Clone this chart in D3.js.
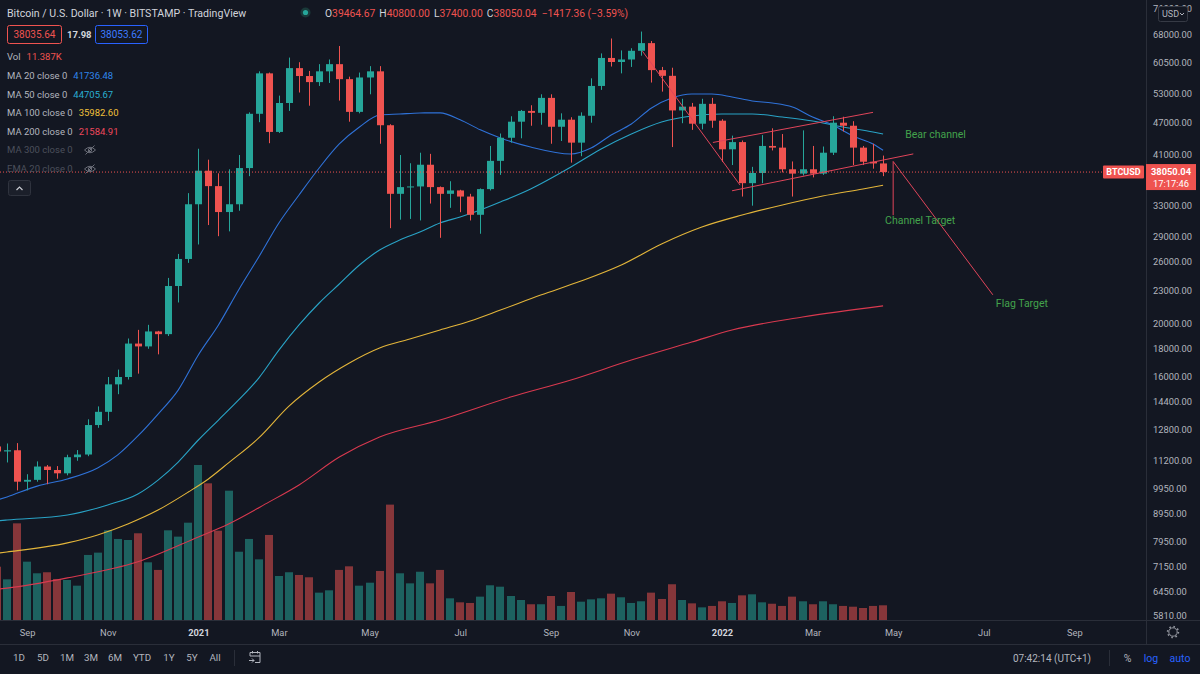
<!DOCTYPE html>
<html>
<head>
<meta charset="utf-8">
<script src="https://cdnjs.cloudflare.com/ajax/libs/d3/7.8.5/d3.min.js"></script>
<style>
  html, body { margin: 0; padding: 0; background: #131722; }
  svg { display: block; font-family: Roboto, "Noto Sans", sans-serif; }
</style>
</head>
<body>
<div id="chart"></div>
<script>
// weekly bars, BITSTAMP BTCUSD (Monday open)
const weeks = [
  "2020-08-17", "2020-08-24", "2020-08-31", "2020-09-07", "2020-09-14", "2020-09-21", "2020-09-28",
  "2020-10-05", "2020-10-12", "2020-10-19", "2020-10-26", "2020-11-02", "2020-11-09", "2020-11-16",
  "2020-11-23", "2020-11-30", "2020-12-07", "2020-12-14", "2020-12-21", "2020-12-28",
  "2021-01-04", "2021-01-11", "2021-01-18", "2021-01-25", "2021-02-01", "2021-02-08", "2021-02-15",
  "2021-02-22", "2021-03-01", "2021-03-08", "2021-03-15", "2021-03-22", "2021-03-29", "2021-04-05",
  "2021-04-12", "2021-04-19", "2021-04-26", "2021-05-03", "2021-05-10", "2021-05-17", "2021-05-24",
  "2021-05-31", "2021-06-07", "2021-06-14", "2021-06-21", "2021-06-28", "2021-07-05", "2021-07-12",
  "2021-07-19", "2021-07-26", "2021-08-02", "2021-08-09", "2021-08-16", "2021-08-23", "2021-08-30",
  "2021-09-06", "2021-09-13", "2021-09-20", "2021-09-27", "2021-10-04", "2021-10-11", "2021-10-18",
  "2021-10-25", "2021-11-01", "2021-11-08", "2021-11-15", "2021-11-22", "2021-11-29", "2021-12-06",
  "2021-12-13", "2021-12-20", "2021-12-27",
  "2022-01-03", "2022-01-10", "2022-01-17", "2022-01-24", "2022-01-31", "2022-02-07", "2022-02-14",
  "2022-02-21", "2022-02-28", "2022-03-07", "2022-03-14", "2022-03-21", "2022-03-28", "2022-04-04",
  "2022-04-11", "2022-04-18", "2022-04-25"
];

// [open, high, low, close]
const ohlc = [
  [11900, 12470, 11560, 11650], [11650, 12050, 11120, 11710], [11710, 12070, 9880, 10250],
  [10250, 10580, 9880, 10330], [10330, 11170, 10250, 10930], [10930, 11000, 10140, 10770],
  [10770, 10950, 10380, 10620], [10620, 11490, 10530, 11370], [11370, 11720, 11200, 11500],
  [11500, 13350, 11420, 13030], [13030, 14100, 12880, 13780], [13780, 15970, 13250, 15480],
  [15480, 16480, 14850, 15970], [15970, 18800, 15800, 18400], [18400, 19500, 16200, 18180],
  [18180, 19920, 18000, 19370], [19370, 19420, 17580, 19150], [19150, 24300, 19000, 23480],
  [23480, 26900, 21900, 26330], [26330, 34800, 25900, 33200],
  [33200, 42000, 28000, 38270], [38270, 40100, 30400, 35850], [35850, 37850, 29000, 32120],
  [32120, 38500, 29600, 33200], [33200, 40900, 32300, 38700], [38700, 49000, 37400, 48700],
  [48700, 58300, 47000, 57800], [57800, 58000, 43000, 45100], [45100, 52600, 44900, 50980],
  [50980, 61800, 49300, 59100], [59100, 60600, 53300, 57150], [57150, 58400, 50400, 55700],
  [55700, 60100, 54800, 58300], [58300, 61300, 55500, 60100], [60100, 64900, 51500, 56400],
  [56400, 57000, 47100, 49100], [49100, 58000, 48800, 56800], [56800, 59600, 52900, 58300],
  [58300, 59600, 42900, 46400], [46400, 46600, 30000, 34700], [34700, 40900, 31100, 35700],
  [35700, 39500, 31200, 35800], [35800, 41300, 31000, 39250], [39250, 41100, 33300, 35700],
  [35700, 35800, 28800, 34700], [34700, 36600, 32700, 35200], [35200, 35300, 32100, 34300],
  [34300, 34700, 31000, 31750], [31750, 35500, 29300, 35400], [35400, 42500, 35200, 39900],
  [39900, 44800, 37600, 44000], [44000, 48200, 43100, 47100], [47100, 49500, 43900, 49300],
  [49300, 50500, 46300, 48900], [48900, 52900, 46500, 52100], [52100, 52900, 42900, 46100],
  [46100, 48800, 43400, 47500], [47500, 48000, 39600, 43100], [43100, 49000, 40700, 48300],
  [48300, 56600, 46900, 54800], [54800, 62900, 53900, 61700], [61700, 67000, 59500, 60650],
  [60650, 63700, 57800, 61300], [61300, 64300, 59400, 63600], [63600, 69000, 62300, 65700],
  [65700, 66300, 55600, 58600], [58600, 59400, 53500, 57200], [57200, 59200, 42300, 49400],
  [49400, 51900, 46800, 50200], [50200, 51000, 45500, 46700], [46700, 51900, 45600, 50800],
  [50800, 52100, 45900, 47300],
  [47300, 47600, 39700, 41900], [41900, 44400, 39200, 43200], [43200, 43500, 34300, 36300],
  [36300, 38900, 33000, 37900], [37900, 44500, 36300, 42500], [42500, 45800, 41700, 42200],
  [42200, 44700, 38000, 38500], [38500, 39800, 34300, 37800], [37800, 45400, 37500, 38500],
  [38500, 42500, 37200, 37800], [37800, 42400, 37600, 41300], [41300, 48200, 40900, 46900],
  [46900, 48100, 45200, 46300], [46300, 47200, 39200, 42200], [42200, 42500, 39200, 39750],
  [39750, 42900, 38600, 39464.67], [39464.67, 40800, 37400, 38050.04]
];

// volume, thousands of BTC
const volumes = [
  41.3, 31.5, 74.9, 45.2, 36.2, 37.0, 31.8, 31.0, 26.6, 50.4, 52.2, 69.5, 62.8, 62.0, 67.2, 44.7,
  38.8, 69.5, 64.6, 75.4,
  120.1, 105.9, 69.2, 100.2, 52.9, 62.8, 47.0, 65.9, 34.1, 37.0, 34.9, 33.1, 21.2, 23.0, 38.8, 41.6,
  26.6, 28.9, 38.0, 89.4, 36.2, 28.4, 37.4, 28.4, 38.8, 16.8, 13.7, 13.2, 18.1, 26.9, 25.8, 18.6,
  15.5, 12.2, 12.2, 18.6, 10.9, 21.7, 14.2, 16.0, 16.8, 20.4, 17.6, 13.2, 14.5, 21.2, 16.3, 27.7,
  15.5, 12.9, 9.8, 10.9,
  14.5, 13.2, 19.1, 19.9, 13.7, 12.6, 10.9, 18.1, 14.5, 12.2, 14.5, 12.2, 10.9, 10.3, 9.3, 10.9, 11.387
];

// moving averages: [bar offset from 2020-08-24, value]
const ma20 = [[-1, 9480], [0, 9610], [3, 10060], [6, 10370], [9, 10860], [11, 11480], [13, 12440],
  [15, 13650], [17, 15110], [19, 17530], [21, 19910], [23, 23090], [25, 26550], [27, 30670],
  [29, 34530], [31, 38710], [33, 42860], [35, 46050], [37, 48450], [39, 48660], [41, 48870],
  [43, 48900], [45, 47500], [47, 45500], [49, 43960], [52, 42310], [56, 41080], [58, 42130],
  [60, 44520], [62, 46640], [64, 49920], [66, 52070], [68, 52970], [70, 52970], [72, 52300],
  [74, 51420], [76, 50980], [78, 50130], [80, 48040], [82, 46450], [84, 44330], [86, 42860],
  [87, 41736.48]];
const ma50 = [[-1, 8680], [0, 8715], [6, 8900], [10, 9290], [13, 9730], [15, 10320], [17, 11140],
  [19, 12230], [21, 13310], [23, 14490], [25, 15900], [27, 17900], [29, 19910], [31, 21850],
  [33, 23680], [35, 25670], [37, 27350], [39, 28530], [41, 29520], [43, 30670], [45, 31460],
  [47, 32400], [49, 33520], [52, 35420], [56, 38870], [59, 41960], [62, 44710], [65, 47040],
  [68, 48250], [71, 48660], [74, 48660], [77, 48040], [80, 47240], [83, 46050], [86, 45090],
  [87, 44705.67]];
const ma100 = [[-1, 7570], [0, 7610], [6, 7910], [9, 8180], [12, 8570], [15, 9090], [18, 9810],
  [20, 10370], [22, 11100], [25, 12340], [28, 14120], [31, 15640], [34, 16950], [37, 18060],
  [40, 18760], [43, 19490], [46, 20250], [49, 21210], [53, 22600], [57, 23980], [61, 25670],
  [65, 28060], [69, 30150], [73, 31720], [77, 33100], [81, 34380], [85, 35420], [87, 35982.60]];
const ma200 = [[-1, 6500], [0, 6530], [6, 6820], [13, 7300], [19, 8110], [22, 8570], [26, 9400],
  [29, 10110], [33, 11380], [37, 12390], [43, 13310], [50, 14670], [56, 15770], [62, 17160],
  [68, 18520], [72, 19490], [79, 20590], [87, 21584.91]];

// drawings: [bar offset, price]
const flagPole = [[63.1, 63500], [72.8, 36000]];
const channelTop = [[70.1, 43130], [86.0, 49000]];
const channelBottom = [[72.0, 35150], [90.0, 41090]];
const channelTarget = [[88.0, 39800], [88.0, 31700]];
const flagTarget = [[88.0, 39800], [97.9, 22620]];
const notes = [["Bear channel", 89.2, 44700], ["Channel Target", 87.2, 31050], ["Flag Target", 98.2, 21850]];

const priceTicks = [76000, 68000, 60500, 53000, 47000, 41000, 33000, 29000, 26000, 23000, 20000,
  18000, 16000, 14400, 12800, 11200, 9950, 8950, 7950, 7150, 6450, 5810];
const timeTicks = [["2020-09-07", "Sep"], ["2020-11-02", "Nov"], ["2021-01-04", "2021"],
  ["2021-03-01", "Mar"], ["2021-05-03", "May"], ["2021-07-05", "Jul"], ["2021-09-06", "Sep"],
  ["2021-11-01", "Nov"], ["2022-01-03", "2022"], ["2022-03-07", "Mar"], ["2022-05-02", "May"],
  ["2022-07-04", "Jul"], ["2022-09-05", "Sep"]];

const width = 1200;
const height = 674;
const plotRight = 1146;
const plotBottom = 620;
const barPx = 10.07;
const WEEK = 7 * 864e5;
const t0 = Date.UTC(2020, 7, 24);

const upColor = "#26a69a";
const downColor = "#ef5350";
const textColor = "#b2b5be";

const xScale = d3
  .scaleUtc()
  .domain([new Date(t0 - (7 / barPx) * WEEK), new Date(t0 + ((plotRight - 7) / barPx) * WEEK)])
  .range([0, plotRight]);
const barX = (i) => xScale(new Date(t0 + i * WEEK));

const yScale = d3.scaleLog().domain([5810, 68000]).range([615.7, 35]);
const yVol = d3.scaleLinear().domain([0, d3.max(volumes)]).range([plotBottom, 465]);

const bars = weeks.map((w, k) => ({
  date: new Date(w),
  o: ohlc[k][0], h: ohlc[k][1], l: ohlc[k][2], c: ohlc[k][3],
  v: volumes[k],
}));

const svg = d3
  .select("#chart")
  .append("svg")
  .attr("width", width)
  .attr("height", height);

svg.append("rect").attr("width", width).attr("height", height).attr("fill", "#131722");

svg.append("clipPath").attr("id", "plot-clip")
  .append("rect").attr("width", plotRight).attr("height", plotBottom);

const plot = svg.append("g").attr("clip-path", "url(#plot-clip)");

// volume
plot.append("g")
  .selectAll("rect")
  .data(bars)
  .join("rect")
  .attr("x", (d) => Math.round(xScale(d.date)) - 4)
  .attr("width", 8)
  .attr("y", (d) => yVol(d.v))
  .attr("height", (d) => plotBottom - yVol(d.v))
  .attr("fill", (d) => (d.c >= d.o ? upColor : downColor))
  .attr("fill-opacity", 0.52);

// moving averages
const maLine = d3.line()
  .x((d) => barX(d[0]))
  .y((d) => yScale(d[1]))
  .curve(d3.curveMonotoneX);

[[ma200, "#d9394f"], [ma100, "#e3b53a"], [ma50, "#29a3c6"], [ma20, "#2f72d8"]].forEach(([data, color]) => {
  plot.append("path")
    .attr("d", maLine(data))
    .attr("fill", "none")
    .attr("stroke", color)
    .attr("stroke-width", 1.1);
});

// candles
const candles = plot.append("g")
  .selectAll("g")
  .data(bars)
  .join("g")
  .attr("fill", (d) => (d.c >= d.o ? upColor : downColor));

candles.append("rect")
  .attr("x", (d) => Math.round(xScale(d.date)))
  .attr("width", 1)
  .attr("y", (d) => yScale(d.h))
  .attr("height", (d) => yScale(d.l) - yScale(d.h));

candles.append("rect")
  .attr("x", (d) => Math.round(xScale(d.date)) - 3)
  .attr("width", 7)
  .attr("y", (d) => yScale(Math.max(d.o, d.c)))
  .attr("height", (d) => Math.max(1, Math.abs(yScale(d.o) - yScale(d.c))));

// drawings
const drawLine = d3.line().x((d) => barX(d[0])).y((d) => yScale(d[1]));
[flagPole, channelTop, channelBottom, channelTarget, flagTarget].forEach((seg) => {
  plot.append("path")
    .attr("d", drawLine(seg))
    .attr("stroke", "#e0455a")
    .attr("stroke-width", 1)
    .attr("fill", "none");
});

plot.append("g")
  .selectAll("text")
  .data(notes)
  .join("text")
  .attr("x", (d) => barX(d[1]))
  .attr("y", (d) => yScale(d[2]))
  .attr("dy", "0.35em")
  .attr("fill", "#43a34c")
  .style("font-size", "10.5px")
  .text((d) => d[0]);

// last price line
const lastClose = bars[bars.length - 1].c;
const yLast = yScale(lastClose);
svg.append("line")
  .attr("x1", 0).attr("x2", 1103)
  .attr("y1", yLast).attr("y2", yLast)
  .attr("stroke", downColor)
  .attr("stroke-dasharray", "1 2");

// frame
svg.append("g")
  .attr("stroke", "#2a2e39")
  .selectAll("line")
  .data([[plotRight + 0.5, 0, plotRight + 0.5, 644], [0, plotBottom + 0.5, width, plotBottom + 0.5], [0, 644.5, width, 644.5]])
  .join("line")
  .attr("x1", (d) => d[0]).attr("y1", (d) => d[1])
  .attr("x2", (d) => d[2]).attr("y2", (d) => d[3]);

// price axis
const yAxis = svg.append("g")
  .attr("transform", `translate(${plotRight}, 0)`)
  .call(d3.axisRight(yScale).tickValues(priceTicks).tickSize(0).tickPadding(7).tickFormat(d3.format(".2f")));
yAxis.select(".domain").remove();
yAxis.selectAll("text").attr("fill", textColor).style("font-size", "9.3px").style("font-family", "Roboto");

// time axis
const tickMap = new Map(timeTicks.map((d) => [new Date(d[0]).getTime(), d[1]]));
const xAxis = svg.append("g")
  .attr("transform", `translate(0, ${plotBottom})`)
  .call(d3.axisBottom(xScale)
    .tickValues(timeTicks.map((d) => new Date(d[0])))
    .tickSize(0)
    .tickPadding(9)
    .tickFormat((d) => tickMap.get(d.getTime())));
xAxis.select(".domain").remove();
xAxis.selectAll("text")
  .style("font-size", "9.3px")
  .style("font-family", "Roboto")
  .attr("fill", (d) => (/^\d/.test(tickMap.get(d.getTime())) ? "#d1d4dc" : textColor))
  .style("font-weight", (d) => (/^\d/.test(tickMap.get(d.getTime())) ? "bold" : "normal"));

// price labels on the axis
svg.append("rect")
  .attr("x", 1103).attr("y", yLast - 6.5).attr("width", 41).attr("height", 13)
  .attr("rx", 1).attr("fill", downColor);
svg.append("text")
  .attr("x", 1123.5).attr("y", yLast).attr("dy", "0.35em")
  .attr("text-anchor", "middle").attr("fill", "#fff")
  .style("font-size", "9px").style("font-weight", "bold")
  .text("BTCUSD");
svg.append("rect")
  .attr("x", plotRight).attr("y", yLast - 8).attr("width", 50).attr("height", 26)
  .attr("fill", downColor);
svg.append("text")
  .attr("x", plotRight + 25).attr("y", yLast).attr("dy", "0.35em")
  .attr("text-anchor", "middle").attr("fill", "#fff")
  .style("font-size", "9.3px").style("font-weight", "bold")
  .text(d3.format(".2f")(lastClose));
svg.append("text")
  .attr("x", plotRight + 25).attr("y", yLast + 12).attr("dy", "0.35em")
  .attr("text-anchor", "middle").attr("fill", "#fff")
  .style("font-size", "9.3px")
  .text("17:17:46");

// USD button
svg.append("rect")
  .attr("x", 1158.5).attr("y", 6.5).attr("width", 29).attr("height", 15)
  .attr("rx", 2).attr("fill", "#131722").attr("stroke", "#363a45");
svg.append("text")
  .attr("x", 1162).attr("y", 14).attr("dy", "0.35em")
  .attr("fill", textColor).style("font-size", "9px")
  .text("USD");
svg.append("path")
  .attr("d", "M1180,13 l2,2 l2,-2")
  .attr("fill", "none").attr("stroke", textColor);

// header
const header = svg.append("text")
  .attr("x", 7).attr("y", 13).attr("dy", "0.35em")
  .style("font-size", "10.6px")
  .attr("fill", "#d1d4dc");
header.append("tspan").text("Bitcoin / U.S. Dollar · 1W · BITSTAMP · TradingView");

svg.append("circle").attr("cx", 305.5).attr("cy", 12.5).attr("r", 5).attr("fill", "#1a3a3a");
svg.append("circle").attr("cx", 305.5).attr("cy", 12.5).attr("r", 2.6).attr("fill", upColor);

const ohlcText = svg.append("text")
  .attr("x", 325).attr("y", 13).attr("dy", "0.35em")
  .style("font-size", "10.3px");
const last = bars[bars.length - 1];
[["O", last.o], ["H", last.h], ["L", last.l], ["C", last.c]].forEach(([k, v], i) => {
  ohlcText.append("tspan").attr("dx", i ? 4 : 0).attr("fill", "#d1d4dc").text(k);
  ohlcText.append("tspan").attr("fill", downColor).text(d3.format(".2f")(v));
});
ohlcText.append("tspan").attr("dx", 5).attr("fill", downColor)
  .text("−1417.36 (−3.59%)");

// bid / ask boxes
svg.append("rect").attr("x", 7.5).attr("y", 25.5).attr("width", 54).attr("height", 18)
  .attr("rx", 2).attr("fill", "none").attr("stroke", downColor);
svg.append("text").attr("x", 34.5).attr("y", 34.5).attr("dy", "0.35em").attr("text-anchor", "middle")
  .attr("fill", downColor).style("font-size", "10px").text("38035.64");
svg.append("text").attr("x", 67).attr("y", 34.5).attr("dy", "0.35em")
  .attr("fill", "#d1d4dc").style("font-size", "9.5px").style("font-weight", "bold").text("17.98");
svg.append("rect").attr("x", 95.5).attr("y", 25.5).attr("width", 52).attr("height", 18)
  .attr("rx", 2).attr("fill", "none").attr("stroke", "#2962ff");
svg.append("text").attr("x", 121.5).attr("y", 34.5).attr("dy", "0.35em").attr("text-anchor", "middle")
  .attr("fill", "#3d7bff").style("font-size", "10px").text("38053.62");

// indicator legend
const legendRows = [
  ["Vol", "11.387K", downColor, 57, false],
  ["MA 20 close 0", "41736.48", "#2f86eb", 76, false],
  ["MA 50 close 0", "44705.67", "#29aed2", 94.5, false],
  ["MA 100 close 0", "35982.60", "#f2c03a", 113, false],
  ["MA 200 close 0", "21584.91", "#f0475c", 131.5, false],
  ["MA 300 close 0", null, null, 150, true],
  ["EMA 20 close 0", null, null, 169, true],
];
legendRows.forEach(([label, value, color, y, hidden]) => {
  const t = svg.append("text")
    .attr("x", 7).attr("y", y).attr("dy", "0.35em")
    .style("font-size", "9.5px")
    .attr("fill", hidden ? "#4b4f5b" : textColor);
  t.append("tspan").text(label);
  if (value) t.append("tspan").attr("dx", 6).attr("fill", color).text(value);
  if (hidden) {
    const eye = svg.append("g")
      .attr("transform", `translate(90, ${y})`)
      .attr("fill", "none").attr("stroke", "#6b6e79").attr("stroke-width", 1);
    eye.append("path").attr("d", "M-5.5,0 Q0,-5.5 5.5,0 Q0,5.5 -5.5,0 Z");
    eye.append("circle").attr("r", 1.7);
    eye.append("line").attr("x1", -4.5).attr("y1", 4.5).attr("x2", 4.5).attr("y2", -4.5);
  }
});

svg.append("rect").attr("x", 8.5).attr("y", 180.5).attr("width", 22).attr("height", 15)
  .attr("rx", 2).attr("fill", "#1b1f2a").attr("stroke", "#2f333e");
svg.append("path").attr("d", "M16.5,190 l3,-3 l3,3")
  .attr("fill", "none").attr("stroke", "#c9cbd2").attr("stroke-width", 1.2);

// bottom toolbar
const ranges = [["1D", 19], ["5D", 43], ["1M", 67], ["3M", 91], ["6M", 115], ["YTD", 142], ["1Y", 169], ["5Y", 192], ["All", 215]];
svg.append("g")
  .selectAll("text")
  .data(ranges)
  .join("text")
  .attr("x", (d) => d[1])
  .attr("y", 658)
  .attr("dy", "0.35em")
  .attr("text-anchor", "middle")
  .attr("fill", textColor)
  .style("font-size", "9.8px")
  .text((d) => d[0]);

svg.append("line").attr("x1", 234.5).attr("x2", 234.5).attr("y1", 650).attr("y2", 666).attr("stroke", "#2a2e39");
svg.append("line").attr("x1", 1109.5).attr("x2", 1109.5).attr("y1", 650).attr("y2", 666).attr("stroke", "#2a2e39");

const cal = svg.append("g").attr("transform", "translate(255, 658)")
  .attr("fill", "none").attr("stroke", textColor).attr("stroke-width", 1);
cal.append("path").attr("d", "M-5,-2 v-3.5 h10 v10 h-5");
cal.append("path").attr("d", "M-5,-2 h10 M-2.5,-7 v2.5 M2.5,-7 v2.5");
cal.append("path").attr("d", "M-6,2.5 h5 M-3,0.5 l2,2 l-2,2");

svg.append("text").attr("x", 1052).attr("y", 658).attr("dy", "0.35em").attr("text-anchor", "middle")
  .attr("fill", textColor).style("font-size", "10px").text("07:42:14 (UTC+1)");
svg.append("text").attr("x", 1127.5).attr("y", 658).attr("dy", "0.35em").attr("text-anchor", "middle")
  .attr("fill", textColor).style("font-size", "10.5px").text("%");
svg.append("text").attr("x", 1151).attr("y", 658).attr("dy", "0.35em").attr("text-anchor", "middle")
  .attr("fill", "#2962ff").style("font-size", "10.5px").text("log");
svg.append("text").attr("x", 1180).attr("y", 658).attr("dy", "0.35em").attr("text-anchor", "middle")
  .attr("fill", "#2962ff").style("font-size", "10.5px").text("auto");

// settings gear
const gear = svg.append("g").attr("transform", "translate(1173, 632)")
  .attr("fill", "none").attr("stroke", "#9598a1");
gear.append("circle").attr("r", 4.2).attr("stroke-width", 1);
gear.append("circle").attr("r", 5.4).attr("stroke-width", 1.6).attr("stroke-dasharray", "1.6 2.6");
</script>
</body>
</html>
